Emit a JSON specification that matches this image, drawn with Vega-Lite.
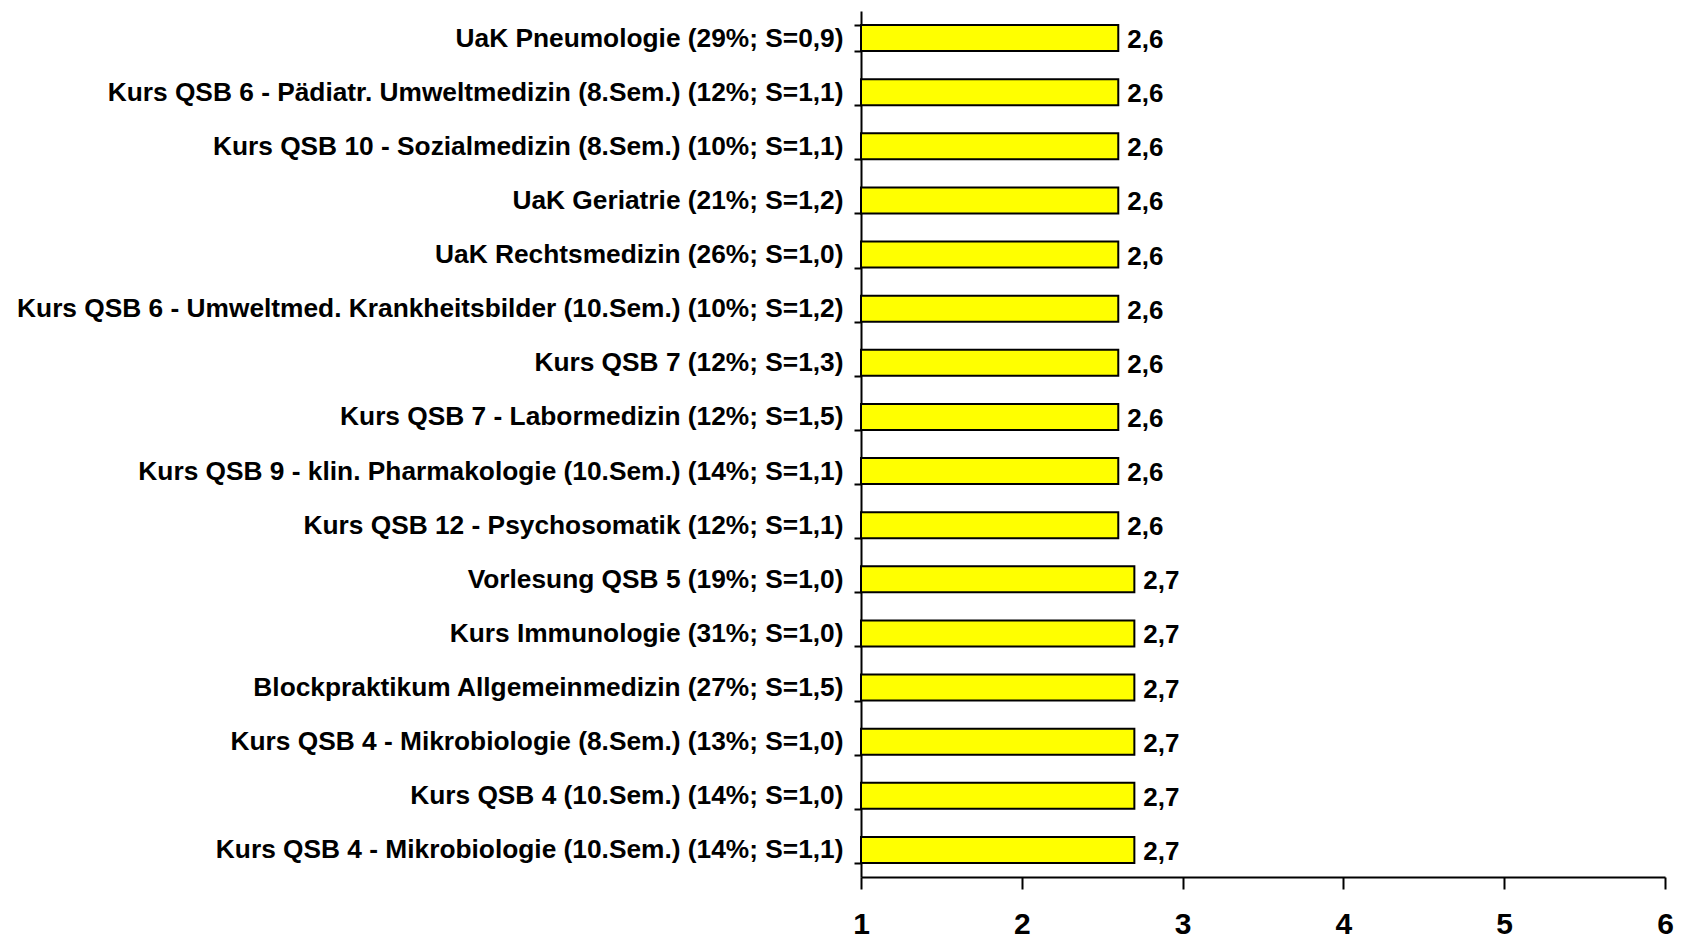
{
  "$schema": "https://vega.github.io/schema/vega-lite/v6.json",
  "autosize": {"type": "none"},
  "padding": {"left": 861, "top": 11, "right": 16, "bottom": 65},
  "width": 804,
  "height": 866,
  "background": "white",
  "config": {
    "view": {"stroke": null},
    "locale": {"number": {"decimal": ",", "thousands": ".", "grouping": [3], "currency": ["", " €"]}}
  },
  "data": {
    "values": [
      {"kurs": "UaK Pneumologie (29%; S=0,9)", "wert": 2.6},
      {"kurs": "Kurs QSB 6 - Pädiatr. Umweltmedizin (8.Sem.) (12%; S=1,1)", "wert": 2.6},
      {"kurs": "Kurs QSB 10 - Sozialmedizin (8.Sem.) (10%; S=1,1)", "wert": 2.6},
      {"kurs": "UaK Geriatrie (21%; S=1,2)", "wert": 2.6},
      {"kurs": "UaK Rechtsmedizin (26%; S=1,0)", "wert": 2.6},
      {"kurs": "Kurs QSB 6 - Umweltmed. Krankheitsbilder (10.Sem.) (10%; S=1,2)", "wert": 2.6},
      {"kurs": "Kurs QSB 7 (12%; S=1,3)", "wert": 2.6},
      {"kurs": "Kurs QSB 7 - Labormedizin (12%; S=1,5)", "wert": 2.6},
      {"kurs": "Kurs QSB 9 - klin. Pharmakologie (10.Sem.) (14%; S=1,1)", "wert": 2.6},
      {"kurs": "Kurs QSB 12 - Psychosomatik (12%; S=1,1)", "wert": 2.6},
      {"kurs": "Vorlesung QSB 5 (19%; S=1,0)", "wert": 2.7},
      {"kurs": "Kurs Immunologie (31%; S=1,0)", "wert": 2.7},
      {"kurs": "Blockpraktikum Allgemeinmedizin (27%; S=1,5)", "wert": 2.7},
      {"kurs": "Kurs QSB 4 - Mikrobiologie (8.Sem.) (13%; S=1,0)", "wert": 2.7},
      {"kurs": "Kurs QSB 4 (10.Sem.) (14%; S=1,0)", "wert": 2.7},
      {"kurs": "Kurs QSB 4 - Mikrobiologie (10.Sem.) (14%; S=1,1)", "wert": 2.7}
    ]
  },
  "encoding": {
    "y": {
      "field": "kurs",
      "type": "nominal",
      "sort": null,
      "scale": {"paddingInner": 0.52, "paddingOuter": 0.26},
      "axis": {
        "title": null,
        "tickBand": "extent",
        "domainColor": "black",
        "domainWidth": 2,
        "tickColor": "black",
        "tickWidth": 2,
        "tickSize": 7,
        "labelPadding": 11,
        "labelLimit": 1000,
        "labelFont": "Liberation Sans",
        "labelFontWeight": "bold",
        "labelFontSize": 26.3,
        "labelColor": "black"
      }
    }
  },
  "layer": [
    {
      "mark": {"type": "bar", "fill": "#FFFF00", "stroke": "black", "strokeWidth": 2},
      "encoding": {
        "x": {
          "field": "wert",
          "type": "quantitative",
          "scale": {"domain": [1, 6], "zero": false, "nice": false},
          "axis": {
            "title": null,
            "values": [1, 2, 3, 4, 5, 6],
            "format": "d",
            "grid": false,
            "domainColor": "black",
            "domainWidth": 2,
            "tickColor": "black",
            "tickWidth": 2,
            "tickSize": 12,
            "labelPadding": 20,
            "labelFont": "Liberation Sans",
            "labelFontWeight": "bold",
            "labelFontSize": 30,
            "labelColor": "black",
            "labelFlush": false,
            "labelOverlap": false
          }
        },
        "x2": {"datum": 1}
      }
    },
    {
      "mark": {"type": "text", "align": "left", "dx": 9, "dy": 2, "font": "Liberation Sans", "fontWeight": "bold", "fontSize": 26, "color": "black"},
      "encoding": {
        "x": {"field": "wert", "type": "quantitative"},
        "text": {"field": "wert", "type": "quantitative", "format": ".1f"}
      }
    }
  ]
}
